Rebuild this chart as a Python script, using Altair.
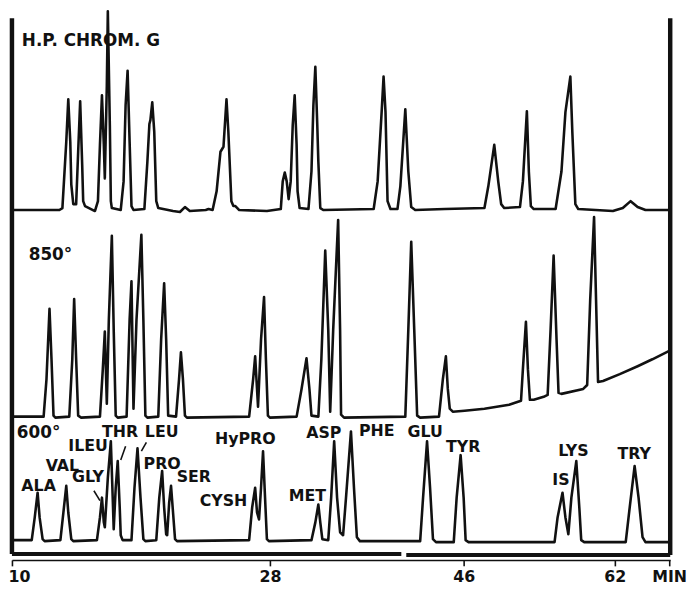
import altair as alt
import pandas as pd

# ---- data: x in minutes, y in chart units (0 = time axis line, 548 = top of frame)
top_t = [10.00, 13.31, 13.52, 13.79, 13.93, 14.07, 14.14, 14.28, 14.48, 14.62, 14.76, 14.90, 14.97, 15.10,
         15.79, 16.00, 16.14, 16.28, 16.41, 16.48, 16.62, 16.69, 16.83, 16.90, 16.97, 17.59, 17.79, 17.93,
         18.07, 18.21, 18.34, 18.48, 19.24, 19.45, 19.59, 19.66, 19.79, 19.93, 20.07, 20.21, 21.24, 21.72,
         22.07, 22.41, 23.52, 23.72, 24.00, 24.28, 24.55, 24.76, 24.97, 25.10, 25.31, 25.45, 25.59, 25.86,
         27.79, 29.01, 29.19, 29.38, 29.56, 29.74, 29.93, 30.12, 30.30, 30.48, 30.57, 30.76, 31.58, 31.86,
         32.04, 32.22, 32.40, 32.50, 32.68, 32.96, 37.64, 38.01, 38.38, 38.56, 38.74, 38.93, 39.20, 39.85,
         40.12, 40.58, 40.86, 41.13, 41.50, 44.26, 48.20, 48.61, 49.24, 49.66, 49.97, 50.29, 51.96, 52.27,
         52.69, 52.90, 53.11, 53.42, 55.73, 56.35, 56.77, 57.29, 57.50, 57.82, 58.13, 61.79, 62.84, 63.67,
         64.41, 65.24, 67.86]
top_v = [354, 354, 356, 423, 466, 423, 380, 360, 360, 413, 464, 400, 363, 358,
         353, 363, 420, 470, 420, 386, 480, 555, 440, 363, 356, 354, 383, 460,
         495, 423, 358, 354, 355, 403, 441, 445, 463, 433, 363, 356, 353, 352,
         357, 353, 354, 355, 354, 373, 413, 418, 466, 433, 363, 358, 358, 354,
         353, 355, 383, 392, 383, 365, 383, 440, 470, 420, 373, 356, 355, 393,
         460, 499, 440, 403, 356, 354, 355, 383, 453, 489, 453, 363, 355, 355,
         378, 456, 393, 357, 354, 355, 356, 378, 420, 383, 360, 356, 357, 383,
         454, 393, 358, 355, 355, 393, 453, 489, 433, 360, 355, 353, 356, 363,
         357, 354, 354]

mid_t = [10.00, 12.21, 12.41, 12.62, 12.76, 12.90, 13.03, 14.00, 14.21, 14.34, 14.48, 14.62, 14.83,
         16.14, 16.34, 16.48, 16.62, 16.76, 16.97, 17.10, 17.24, 17.38, 18.00, 18.21, 18.34, 18.48,
         18.69, 19.03, 19.17, 19.31, 19.45, 20.21, 20.41, 20.62, 20.76, 20.90, 21.45, 21.66, 21.79,
         21.93, 22.07, 22.21, 26.55, 26.83, 26.97, 27.17, 27.38, 27.59, 27.72, 27.86, 28.00, 30.48,
         30.94, 31.40, 31.67, 31.86, 32.50, 32.78, 33.14, 33.42, 33.60, 33.88, 34.34, 34.52, 34.61,
         34.89, 40.58, 40.86, 41.13, 41.41, 41.68, 41.96, 43.71, 44.07, 44.35, 44.53, 44.71, 44.99,
         46.10, 48.20, 50.81, 52.07, 52.27, 52.59, 52.80, 53.01, 53.42, 54.47, 54.89, 55.20, 55.52,
         55.83, 56.04, 56.35, 58.65, 59.07, 59.39, 59.80, 60.01, 60.22, 60.75, 62.52, 64.41, 65.97,
         67.86]
mid_v = [145, 145, 183, 254, 203, 146, 144, 145, 203, 264, 203, 146, 144,
         145, 193, 231, 158, 243, 328, 233, 146, 144, 145, 243, 282, 153,
         243, 329, 243, 146, 144, 145, 223, 280, 223, 146, 145, 183, 210,
         183, 146, 144, 145, 183, 206, 155, 223, 266, 203, 146, 144, 145,
         173, 204, 173, 146, 145, 203, 313, 233, 150, 233, 344, 233, 147,
         144, 145, 233, 322, 233, 146, 144, 145, 183, 206, 173, 153, 150,
         151, 153, 157, 161, 193, 241, 193, 162, 162, 165, 167, 233, 308,
         223, 169, 168, 173, 177, 263, 347, 263, 180, 181, 188, 196, 203,
         212]

bot_t = [10.00, 11.38, 11.59, 11.79, 11.93, 12.14, 12.28, 13.38, 13.59, 13.79, 13.93, 14.14, 14.28,
         15.93, 16.14, 16.28, 16.41, 16.48, 16.69, 16.90, 17.03, 17.10, 17.24, 17.38, 17.52, 17.59,
         17.72, 18.34, 18.55, 18.76, 18.97, 19.17, 19.31, 20.07, 20.28, 20.48, 20.62, 20.76, 20.83,
         20.97, 21.10, 21.24, 21.38, 21.52, 26.55, 26.76, 26.97, 27.10, 27.24, 27.38, 27.52, 27.66,
         27.79, 27.93, 31.86, 32.22, 32.50, 32.68, 32.87, 33.42, 33.69, 33.97, 34.24, 34.52, 34.80,
         35.07, 35.53, 35.81, 36.08, 36.36, 41.96, 42.23, 42.60, 42.88, 43.15, 43.43, 45.08, 45.35,
         45.72, 46.00, 46.21, 46.52, 55.62, 55.94, 56.46, 56.77, 57.08, 57.40, 57.92, 58.24, 58.44,
         58.76, 63.15, 63.57, 64.09, 64.51, 64.93, 65.24, 67.86]
bot_v = [20, 20, 43, 68, 43, 21, 19, 20, 48, 75, 48, 21, 19,
         20, 43, 63, 38, 33, 83, 120, 63, 31, 73, 100, 53, 25,
         20, 20, 73, 113, 63, 21, 19, 20, 63, 90, 53, 26, 25,
         58, 75, 48, 21, 19, 20, 53, 73, 48, 41, 73, 110, 63,
         21, 19, 20, 38, 56, 38, 21, 20, 63, 120, 63, 28, 25,
         63, 130, 73, 23, 19, 19, 63, 120, 73, 21, 18, 18, 63,
         106, 63, 20, 18, 18, 43, 68, 43, 26, 63, 100, 53, 20,
         18, 18, 53, 95, 63, 23, 18, 18]

title_text = ["H.P. CHROM. G", "850°", "600°"]
title_t = [10.69, 11.17, 10.34]
title_v = [525, 308, 128]

label_text = ["ALA", "VAL", "ILEU", "GLY", "THR", "LEU", "PRO", "SER", "CYSH", "HyPRO",
              "MET", "ASP", "PHE", "GLU", "TYR", "IS", "LYS", "TRY"]
label_t = [11.86, 13.52, 15.31, 15.31, 17.55, 20.45, 20.48, 22.69, 24.76, 26.28,
           31.49, 33.01, 37.92, 42.42, 45.95, 56.30, 57.61, 64.04]
label_v = [75, 95, 115, 84, 129, 129, 97, 84, 60, 122,
           65, 128, 130, 129, 114, 81, 110, 107]

arrow_t = [15.72, 17.93, 19.38]
arrow_t2 = [16.14, 17.59, 19.03]
arrow_v = [70, 115, 119]
arrow_v2 = [60, 101, 110]

tick_values = [10, 28, 46, 62, 67.75]
tick_labels = ["10", "28", "46", "62", "MIN"]

# time axis of the spliced record is not uniform: piecewise-linear scale
x_domain = [10, 28, 46, 62, 67.86]
x_range = [0, 261, 457, 610, 666]

frame_v_t = [10.0, 67.86]
frame_v_y = [6, 5]
frame_v_y2 = [548, 548]
frame_h_t = [10.0, 40.67]
frame_h_t2 = [40.21, 67.86]
frame_h_y = [6, 5]

# ---- tables
def trace_df(name, t, v):
    return pd.DataFrame({"trace": name, "t": t, "v": v, "i": list(range(len(t)))})

traces = pd.concat([trace_df("HP", top_t, top_v), trace_df("850", mid_t, mid_v),
                    trace_df("600", bot_t, bot_v)], ignore_index=True)
titles = pd.DataFrame({"text": title_text, "t": title_t, "v": title_v})
labels = pd.DataFrame({"text": label_text, "t": label_t, "v": label_v})
arrows = pd.DataFrame({"t": arrow_t, "t2": arrow_t2, "v": arrow_v, "v2": arrow_v2})
frame_v = pd.DataFrame({"t": frame_v_t, "v": frame_v_y, "v2": frame_v_y2})
frame_h = pd.DataFrame({"t": frame_h_t, "t2": frame_h_t2, "v": frame_h_y})

ink = "#111111"
font = "DejaVu Sans"

label_expr = " : ".join(
    [f"datum.value < {v + 0.5} ? '{l}'" for v, l in zip(tick_values[:-1], tick_labels[:-1])]
) + f" : '{tick_labels[-1]}'"


def X(field="t"):
    return alt.X(
        f"{field}:Q",
        scale=alt.Scale(domain=x_domain, range=x_range, nice=False, zero=False),
        axis=alt.Axis(
            values=tick_values, labelExpr=label_expr, title=None, grid=False,
            domain=True, domainColor=ink, domainWidth=1.6,
            ticks=True, tickColor=ink, tickWidth=1.6, tickSize=6,
            labelFont=font, labelFontWeight="bold", labelFontSize=16, labelColor=ink,
            labelPadding=3,
            labelAlign={"condition": {"test": "datum.value <= 10", "value": "left"}, "value": "center"},
            labelOffset={"condition": {"test": "datum.value <= 10", "value": -4}, "value": 0},
        ),
    )


def Y(field="v"):
    return alt.Y(f"{field}:Q", scale=alt.Scale(domain=[0, 548], nice=False, zero=False), axis=None)


lines = alt.Chart(traces).mark_line(
    color=ink, strokeWidth=2.6, strokeJoin="round", strokeCap="round"
).encode(x=X(), y=Y(), detail="trace:N", order="i:Q")

fv = alt.Chart(frame_v).mark_rule(color=ink, strokeWidth=4.5).encode(x=X(), y=Y(), y2="v2:Q")
fh = alt.Chart(frame_h).mark_rule(color=ink, strokeWidth=4).encode(x=X(), x2="t2:Q", y=Y())
arr = alt.Chart(arrows).mark_rule(color=ink, strokeWidth=1.6).encode(
    x=X(), x2="t2:Q", y=Y(), y2="v2:Q"
)
ttl = alt.Chart(titles).mark_text(
    font=font, fontWeight="bold", fontSize=17, align="left", baseline="middle", color=ink
).encode(x=X(), y=Y(), text="text:N")
lab = alt.Chart(labels).mark_text(
    font=font, fontWeight="bold", fontSize=16, align="center", baseline="middle", color=ink
).encode(x=X(), y=Y(), text="text:N")

chart = alt.layer(lines, fv, fh, arr, ttl, lab).properties(
    width=666, height=548,
    autosize=alt.AutoSizeParams(type="none"),
    padding={"left": 4, "top": 7, "right": 18, "bottom": 26},
    background="white",
).configure_view(stroke=None)

chart.save("out.html", embed_options={"renderer": "svg", "actions": False})
